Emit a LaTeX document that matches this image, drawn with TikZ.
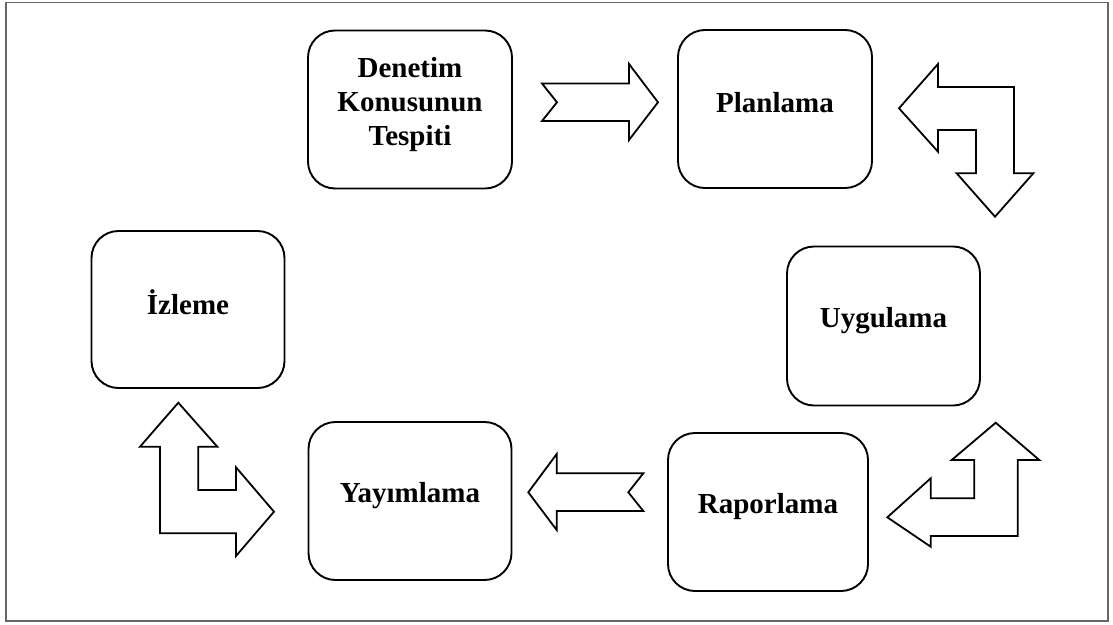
\documentclass[tikz,border=0pt]{standalone}
\usepackage{fontspec}
\setmainfont{Liberation Serif}
\begin{document}
\begin{tikzpicture}[x=1pt,y=-1pt,
  stage/.style={draw=black,line width=1.9pt,rounded corners=27pt,fill=white,inner sep=0pt},
  stagetext/.style={align=center,font=\fontsize{29}{34}\selectfont\bfseries,inner sep=0pt},
  blockarrow/.style={draw=black,line width=1.8pt,fill=white,line join=miter}]
\useasboundingbox (0,0) rectangle (1113,624);
\draw[line width=1.3pt,draw=black!60] (6,2.5) rectangle (1108,621);
% boxes
\node[stage,minimum width=204pt,minimum height=158pt] (den) at (410,109.5) {};
\node[stage,minimum width=194pt,minimum height=158pt] (plan) at (775,109) {};
\node[stage,minimum width=193pt,minimum height=159pt] (uyg) at (883.5,326) {};
\node[stage,minimum width=193pt,minimum height=157pt] (izl) at (188,309.5) {};
\node[stage,minimum width=203pt,minimum height=158pt] (yay) at (410,501) {};
\node[stage,minimum width=200pt,minimum height=158pt] (rap) at (768,512) {};
% texts
\node[stagetext] (denT) at ([yshift=4.5pt]den.center) {Denetim\\Konusunun\\Tespiti};
\node[stagetext] (planT) at ([yshift=6.5pt]plan.center) {Planlama};
\node[stagetext] (uygT) at ([yshift=5pt]uyg.center) {Uygulama};
\node[stagetext] (izlT) at ([yshift=7.5pt]izl.center) {İzleme};
\node[stagetext] (yayT) at ([yshift=5pt]yay.center) {Yayımlama};
\node[stagetext] (rapT) at ([yshift=5pt]rap.center) {Raporlama};
% arrow: Denetim -> Planlama (notched right arrow)
\draw[blockarrow] (542,83.5) -- (629,83.5) -- (629,64) -- (658,102.3) -- (629,140) -- (629,121) -- (542,121) -- (557,102.3) -- cycle;
% arrow: Planlama <-> Uygulama (bent)
\draw[blockarrow] (899,108.3) -- (938,64) -- (938,87) -- (1014,87) -- (1014,173.3) -- (1033.3,173.3) -- (995,216.7) -- (956.7,173.3) -- (976,173.3) -- (976,130) -- (938,130) -- (938,151.7) -- cycle;
% arrow: Uygulama <-> Raporlama (bent)
\draw[blockarrow] (995.7,422.7) -- (1039.3,460) -- (1017.7,460) -- (1017.7,536) -- (930.7,536) -- (930.7,546.7) -- (887.3,517.3) -- (930.7,478.3) -- (930.7,498.3) -- (974.3,498.3) -- (974.3,460) -- (951.7,460) -- cycle;
% arrow: Raporlama -> Yayimlama (notched left arrow)
\draw[blockarrow] (643.3,473.3) -- (556.7,473.3) -- (556.7,454) -- (528.3,492.3) -- (556.7,530) -- (556.7,511) -- (643.3,511) -- (628.3,492.3) -- cycle;
% arrow: Izleme <-> Yayimlama (bent)
\draw[blockarrow] (178.3,402.7) -- (217.3,446.7) -- (198.3,446.7) -- (198.3,490) -- (236,490) -- (236,467.3) -- (274,511.7) -- (236,556) -- (236,533.3) -- (160,533.3) -- (160,446.7) -- (140,446.7) -- cycle;
\end{tikzpicture}
\end{document}
